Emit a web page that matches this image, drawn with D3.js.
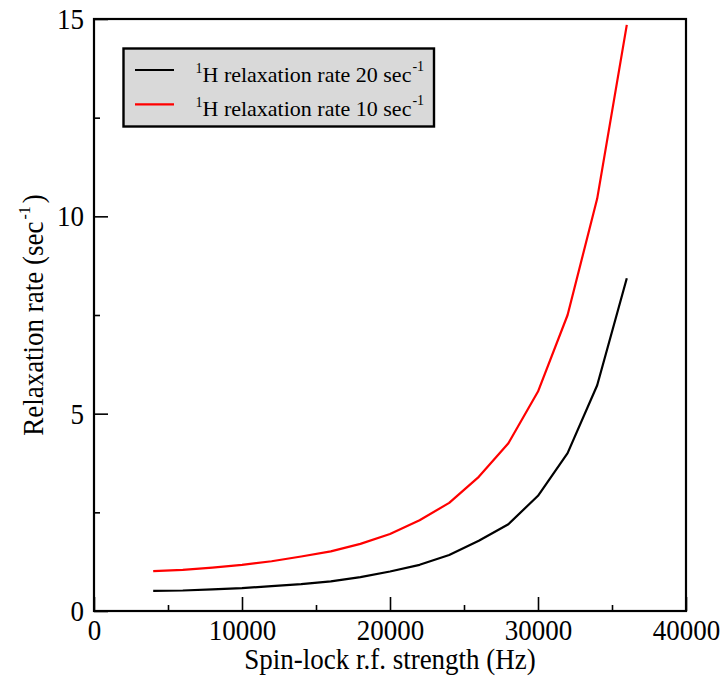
<!DOCTYPE html>
<html>
<head>
<meta charset="utf-8">
<script src="https://cdn.jsdelivr.net/npm/d3@7"></script>
<style>
  body { margin: 0; background: #fff; }
</style>
</head>
<body>
<div id="chart"></div>
<script>
var svgWidth = 725;
var svgHeight = 679;

var margin = {
  top: 19,
  right: 39,
  bottom: 68,
  left: 94
};

var width = svgWidth - margin.left - margin.right;
var height = svgHeight - margin.top - margin.bottom;
var serif = "'Liberation Serif', 'Times New Roman', serif";
var stretch = 1.08;

// data
var fieldHz = [4000, 6000, 8000, 10000, 12000, 14000, 16000, 18000, 20000,
  22000, 24000, 26000, 28000, 30000, 32000, 34000, 36000];
var rate20 = [0.51, 0.52, 0.55, 0.58, 0.63, 0.68, 0.75, 0.86, 1.00,
  1.17, 1.42, 1.78, 2.20, 2.92, 4.00, 5.72, 8.43];
var rate10 = [1.01, 1.04, 1.10, 1.17, 1.26, 1.38, 1.51, 1.70, 1.95,
  2.30, 2.74, 3.40, 4.25, 5.56, 7.50, 10.45, 14.85];
var seriesNames = ["H relaxation rate 20 sec", "H relaxation rate 10 sec"];
var seriesColors = ["#000000", "#ff0000"];
var xTicks = [0, 10000, 20000, 30000, 40000];
var xMinorTicks = [5000, 15000, 25000, 35000];
var yTicks = [0, 5, 10, 15];
var yMinorTicks = [2.5, 7.5, 12.5];

var svg = d3.select("#chart")
  .append("svg")
  .attr("width", svgWidth)
  .attr("height", svgHeight);

var chartGroup = svg.append("g")
  .attr("transform", `translate(${margin.left}, ${margin.top})`);

var xScale = d3.scaleLinear().domain([0, 40000]).range([0, width]);
var yScale = d3.scaleLinear().domain([0, 15]).range([height, 0]);

// major + minor ticks point inward
var bottomAxis = d3.axisBottom(xScale).tickValues(xTicks)
  .tickSize(-14).tickFormat(d3.format("d"));
var bottomMinor = d3.axisBottom(xScale).tickValues(xMinorTicks)
  .tickSize(-6).tickFormat("");
var leftAxis = d3.axisLeft(yScale).tickValues(yTicks)
  .tickSize(-14).tickFormat(d3.format("d"));
var leftMinor = d3.axisLeft(yScale).tickValues(yMinorTicks)
  .tickSize(-6).tickFormat("");

function styleAxis(g) {
  g.select(".domain").remove();
  g.selectAll("line").attr("stroke", "#000").attr("stroke-width", 1.6);
  g.selectAll("text")
    .style("font-family", serif)
    .style("font-size", "27px")
    .attr("fill", "#000")
    .attr("x", 0).attr("y", 0).attr("dy", null);
}

chartGroup.append("g")
  .attr("transform", `translate(0, ${height})`)
  .call(bottomAxis)
  .call(styleAxis)
  .selectAll("text")
  .attr("transform", `translate(0, 29) scale(1, ${stretch})`);

chartGroup.append("g")
  .attr("transform", `translate(0, ${height})`)
  .call(bottomMinor)
  .call(styleAxis);

chartGroup.append("g")
  .call(leftAxis)
  .call(styleAxis)
  .selectAll("text")
  .attr("transform", `translate(-10, 9.5) scale(1, ${stretch})`);

chartGroup.append("g")
  .call(leftMinor)
  .call(styleAxis);

// curves
var lineGen = d3.line()
  .x((d, i) => xScale(fieldHz[i]))
  .y(d => yScale(d));

[rate20, rate10].forEach(function(series, i) {
  chartGroup.append("path")
    .datum(series)
    .attr("fill", "none")
    .attr("stroke", seriesColors[i])
    .attr("stroke-width", 2.2)
    .attr("stroke-linejoin", "round")
    .attr("d", lineGen);
});

// frame
chartGroup.append("rect")
  .attr("width", width)
  .attr("height", height)
  .attr("fill", "none")
  .attr("stroke", "#000")
  .attr("stroke-width", 2.2);

// legend
var legend = chartGroup.append("g")
  .attr("transform", "translate(29.5, 29.5)");

legend.append("rect")
  .attr("width", 310.5)
  .attr("height", 78)
  .attr("fill", "#d9d9d9")
  .attr("stroke", "#000")
  .attr("stroke-width", 2.4);

seriesNames.forEach(function(name, i) {
  var row = legend.append("g")
    .attr("transform", `translate(0, ${21.5 + i * 34.3})`);
  row.append("line")
    .attr("x1", 11.5).attr("x2", 50.5)
    .attr("y1", 0).attr("y2", 0)
    .attr("stroke", seriesColors[i])
    .attr("stroke-width", 2.2);
  var label = row.append("text")
    .attr("x", 72)
    .attr("y", 12)
    .style("font-family", serif)
    .style("font-size", "22px")
    .attr("fill", "#000");
  label.append("tspan").attr("dy", "-9").style("font-size", "14px").text("1");
  label.append("tspan").attr("dy", "9").text(name);
  label.append("tspan").attr("dx", "1").attr("dy", "-11").style("font-size", "14px").text("-1");
});

// axis titles
svg.append("text")
  .attr("transform", `translate(${margin.left + width / 2}, 669) scale(1, ${stretch})`)
  .attr("text-anchor", "middle")
  .style("font-family", serif)
  .style("font-size", "27px")
  .attr("fill", "#000")
  .text("Spin-lock r.f. strength (Hz)");

var yTitle = svg.append("text")
  .attr("transform", `translate(43, ${margin.top + height / 2}) rotate(-90) scale(1, ${stretch})`)
  .attr("text-anchor", "middle")
  .style("font-family", serif)
  .style("font-size", "27px")
  .attr("fill", "#000");
yTitle.append("tspan").text("Relaxation rate (sec");
yTitle.append("tspan").attr("dx", "2").attr("dy", "-12").style("font-size", "16px").text("-1");
yTitle.append("tspan").attr("dx", "3").attr("dy", "12").text(")");
</script>
</body>
</html>
